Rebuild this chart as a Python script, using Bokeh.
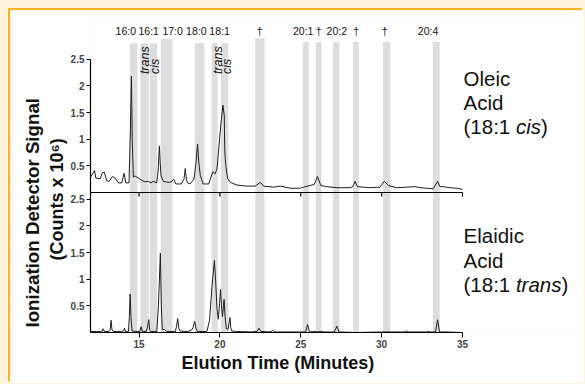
import math
from bokeh.plotting import figure
from bokeh.models import (Range1d, Title, FixedTicker, CustomJSTickFormatter, ColumnDataSource,
                          GlobalInlineStyleSheet)
from bokeh.transform import dodge
from bokeh.core.properties import value
from bokeh.embed import file_html
from bokeh.resources import INLINE

# ---------------- data ----------------
oleic_time = [12.0, 12.25, 12.33, 12.6, 12.74, 12.86, 13.0, 13.15, 13.36, 13.52, 13.73, 13.93,
              14.08, 14.18, 14.38, 14.47, 14.53, 14.58, 14.65, 14.75, 14.96, 15.17, 15.37,
              15.58, 15.74, 15.88, 16.09, 16.18, 16.26, 16.31, 16.36, 16.5, 16.8, 17.0, 17.14,
              17.28, 17.6, 17.78, 17.86, 17.93, 18.0, 18.15, 18.4, 18.52, 18.62, 18.7, 18.79,
              18.96, 19.31, 19.45, 19.57, 19.7, 19.82, 19.98, 20.07, 20.19, 20.27, 20.3, 20.33,
              20.37, 20.48, 20.65, 21.05, 21.67, 22.18, 22.5, 22.7, 23.32, 23.73, 24.35, 24.97,
              25.17, 25.83, 26.03, 26.24, 26.6, 27.23, 28.05, 28.22, 28.36, 28.5, 29.28, 29.9,
              30.17, 30.42, 30.93, 31.55, 32.06, 32.37, 33.19, 33.46, 33.6, 33.8, 34.22, 34.63, 35.0]
oleic_signal = [0.29, 0.41, 0.27, 0.26, 0.37, 0.38, 0.22, 0.21, 0.30, 0.27, 0.18, 0.18,
                0.36, 0.18, 0.18, 1.2, 2.18, 1.0, 0.29, 0.31, 0.27, 0.23, 0.20,
                0.21, 0.18, 0.21, 0.18, 0.40, 0.87, 0.55, 0.31, 0.21, 0.19, 0.20, 0.25,
                0.16, 0.16, 0.25, 0.45, 0.25, 0.18, 0.16, 0.25, 0.55, 0.91, 0.55, 0.32,
                0.16, 0.16, 0.29, 0.39, 0.35, 0.44, 1.0, 1.31, 1.64, 1.44, 0.80, 0.63,
                0.50, 0.26, 0.19, 0.14, 0.12, 0.12, 0.19, 0.12, 0.10, 0.12, 0.08, 0.08,
                0.10, 0.15, 0.30, 0.13, 0.11, 0.09, 0.09, 0.11, 0.21, 0.11, 0.09, 0.10,
                0.21, 0.13, 0.09, 0.10, 0.11, 0.09, 0.07, 0.21, 0.11, 0.11, 0.09, 0.08, 0.06]

elaidic_time = [12.0, 12.6, 12.72, 12.78, 12.85, 13.15, 13.22, 13.27, 13.33, 13.4, 13.93, 14.05,
                14.1, 14.16, 14.35, 14.4, 14.45, 14.5, 14.57, 14.8, 15.05, 15.13, 15.2, 15.45,
                15.54, 15.6, 15.66, 15.72, 16.1, 16.2, 16.32, 16.38, 16.44, 16.57, 16.7, 17.25,
                17.32, 17.39, 17.46, 17.53, 17.84, 18.05, 18.26, 18.35, 18.44, 18.52, 18.6, 19.2,
                19.36, 19.51, 19.66, 19.74, 19.82, 19.9, 19.98, 20.04, 20.1, 20.16, 20.22, 20.26,
                20.32, 20.4, 20.5, 20.57, 20.62, 20.67, 20.72, 20.97, 21.9, 22.3, 22.41, 22.53,
                23.1, 23.27, 23.4, 24.9, 25.3, 25.42, 25.54, 25.89, 26.03, 26.24, 26.4, 27.08,
                27.23, 27.37, 28.46, 30.1, 31.44, 31.55, 31.65, 32.78, 32.88, 32.99, 33.33, 33.46,
                33.58, 34.0, 35.0]
elaidic_signal = [0.02, 0.02, 0.02, 0.07, 0.02, 0.02, 0.05, 0.23, 0.05, 0.02, 0.02, 0.03,
                  0.08, 0.02, 0.02, 0.30, 0.72, 0.30, 0.03, 0.02, 0.02, 0.11, 0.02, 0.02,
                  0.12, 0.24, 0.05, 0.02, 0.02, 0.50, 1.49, 0.50, 0.05, 0.06, 0.02, 0.02,
                  0.12, 0.26, 0.08, 0.03, 0.02, 0.02, 0.05, 0.10, 0.21, 0.08, 0.02, 0.02,
                  0.23, 0.86, 1.35, 0.95, 0.45, 0.25, 0.54, 0.81, 0.50, 0.30, 0.50, 0.62,
                  0.30, 0.07, 0.06, 0.18, 0.28, 0.10, 0.03, 0.02, 0.01, 0.02, 0.08, 0.02,
                  0.01, 0.04, 0.01, 0.01, 0.01, 0.15, 0.01, 0.02, 0.01, 0.02, 0.01, 0.01,
                  0.12, 0.01, 0.00, 0.01, 0.01, 0.03, 0.01, 0.01, 0.02, 0.01, 0.01, 0.24,
                  0.01, 0.01, 0.00]

band_start = [14.43, 15.09, 15.66, 16.34, 18.46, 19.49, 20.07, 22.19, 25.13, 25.93, 26.98, 28.23, 30.09, 33.17]
band_end   = [14.90, 15.60, 16.12, 17.06, 19.04, 19.86, 20.52, 22.76, 25.50, 26.28, 27.39, 28.59, 30.54, 33.59]

peak_labels = ["16:0", "16:1", "17:0", "18:0", "18:1", "\u2020", "20:1", "\u2020", "20:2", "\u2020", "\u2020", "20:4"]
peak_label_time = [14.18, 15.60, 17.08, 18.54, 19.98, 22.46, 25.15, 26.10, 27.23, 28.43, 30.19, 32.87]

isomer_labels = ["trans", "cis", "trans", "cis"]
isomer_time = [15.36, 15.96, 19.88, 20.43]

sample_lines = ["Oleic", "Acid", "(18:1 ", ")", "Elaidic", "Acid", "(18:1 ", ")"]
sample_italic = ["cis", "trans"]

x_ticks = [15, 20, 25, 30, 35]
y_ticks = [0.5, 1, 1.5, 2, 2.5]
X_MIN, X_MAX = 12, 35

# ---------------- layout / style ----------------
PXM = 372 / 23         # pixels per minute
PXU = 160 / 3          # pixels per signal unit
OFF = 2.625            # vertical offset of the upper (oleic) panel
FONT = "Liberation Sans"
CREAM, GOLD = "#fdf2da", "#f2b52a"
band_top = [2.80, 2.80, 2.80, 2.88, 2.80, 2.80, 2.80, 2.89, 2.82, 2.82, 2.82, 2.82, 2.82, 2.82]

W, H = 574, 373        # canvas, placed at page (10, 10)
FR_LEFT, FR_TOP, FR_BOTTOM = 80, 10, 322     # frame edges on the canvas


def py2v(py):   # reference page y -> plot units
    return (332 - py) / PXU


x_end = X_MIN + (W - FR_LEFT) / PXM
p = figure(width=W, height=H, x_range=Range1d(X_MIN, x_end), y_range=Range1d(0, (FR_BOTTOM - FR_TOP) / PXU),
           output_backend="svg", toolbar_location=None,
           min_border_left=FR_LEFT, min_border_right=0, min_border_top=FR_TOP,
           min_border_bottom=H - FR_BOTTOM,
           background_fill_color="white", border_fill_color="white", outline_line_color=None)
p.styles = {"margin-left": "10px", "margin-top": "10px", "box-shadow": f"-2px -2px 0 0 {GOLD}"}
p.stylesheets = [GlobalInlineStyleSheet(css="html { background: %s; }" % CREAM)]
p.grid.visible = False

p.quad(left=band_start, right=band_end, bottom=0, top=[OFF + h for h in band_top],
       fill_color="#dddddd", line_color=None)

src_top = ColumnDataSource(dict(t=oleic_time, v=oleic_signal))
src_bot = ColumnDataSource(dict(t=elaidic_time, v=elaidic_signal))
p.line(x="t", y=dodge("v", OFF), source=src_top, line_color="#1e1e1e", line_width=1)
p.line(x="t", y="v", source=src_bot, line_color="#1e1e1e", line_width=1)

xa = p.xaxis[0]
xa.ticker = FixedTicker(ticks=x_ticks)
xa.bounds = (X_MIN, X_MAX)
xa.major_tick_in = 0
xa.major_tick_out = 5
xa.minor_tick_in = 0
xa.minor_tick_out = 0
xa.major_label_standoff = 2
xa.major_label_text_font = FONT
xa.major_label_text_font_style = "bold"
xa.major_label_text_font_size = "10px"
xa.axis_line_width = 1.2

ya = p.yaxis[0]
ya.ticker = FixedTicker(ticks=y_ticks + [t + OFF for t in y_ticks])
ya.formatter = CustomJSTickFormatter(args=dict(off=OFF),
                                     code="const v = tick > off ? tick - off : tick; return String(Math.round(v*10)/10);")
ya.bounds = (0, OFF + 2.5)
ya.major_tick_in = 0
ya.major_tick_out = 4
ya.minor_tick_in = 0
ya.minor_tick_out = 0
ya.major_label_standoff = 2
ya.major_label_text_font = FONT
ya.major_label_text_font_style = "bold"
ya.major_label_text_font_size = "10px"
ya.axis_line_width = 1.2

title_style = dict(text_font=FONT, text_font_style="bold", text_color="#111111")
p.add_layout(Title(text="Elution Time (Minutes)", align="left", offset=91, standoff=0,
                   text_font_size="18px", **title_style), "below")
p.add_layout(Title(text="(Counts x 10\u2076)", align="left", offset=72, standoff=2,
                   text_font_size="18px", **title_style), "left")
p.add_layout(Title(text="Ionization Detector  Signal", align="left", offset=5, standoff=2,
                   text_font_size="18.7px", **title_style), "left")

# x axis of the upper panel
p.segment(x0=[X_MIN], x1=[X_MAX], y0=[OFF], y1=[OFF], line_color="black", line_width=1.2)
p.segment(x0=x_ticks, x1=x_ticks, y0=OFF, y1=OFF - 4 / PXU, line_color="black", line_width=1.2)

p.text(x=peak_label_time, y=OFF + 3.02, text=peak_labels, text_font=value(FONT),
       text_font_size="10.5px", text_align="center", text_baseline="middle", text_color="#111111")
p.text(x=isomer_time, y=OFF + 2.22, text=isomer_labels, angle=math.pi / 2, text_font=value(FONT),
       text_font_style="italic", text_font_size="12.5px", text_align="left", text_baseline="middle",
       text_color="#111111")

# sample names at the right
RX = X_MAX + 1 / PXM
line_y = [py2v(v) for v in (77.5, 101.5, 126, 126, 235, 259.5, 284, 284)]
line_dx = [0, 0, 0, 77.5, 0, 0, 0, 98]
p.text(x=RX, y=line_y, text=sample_lines, x_offset=line_dx, text_font=value(FONT),
       text_font_size="20.5px", text_align="left", text_baseline="alphabetic", text_color="#111111")
p.text(x=RX, y=[py2v(126), py2v(284)], text=sample_italic, x_offset=52.4, text_font=value(FONT),
       text_font_style="italic", text_font_size="20.5px", text_align="left",
       text_baseline="alphabetic", text_color="#111111")

open("out.html", "w").write(file_html(p, INLINE, title="Chromatograms"))
